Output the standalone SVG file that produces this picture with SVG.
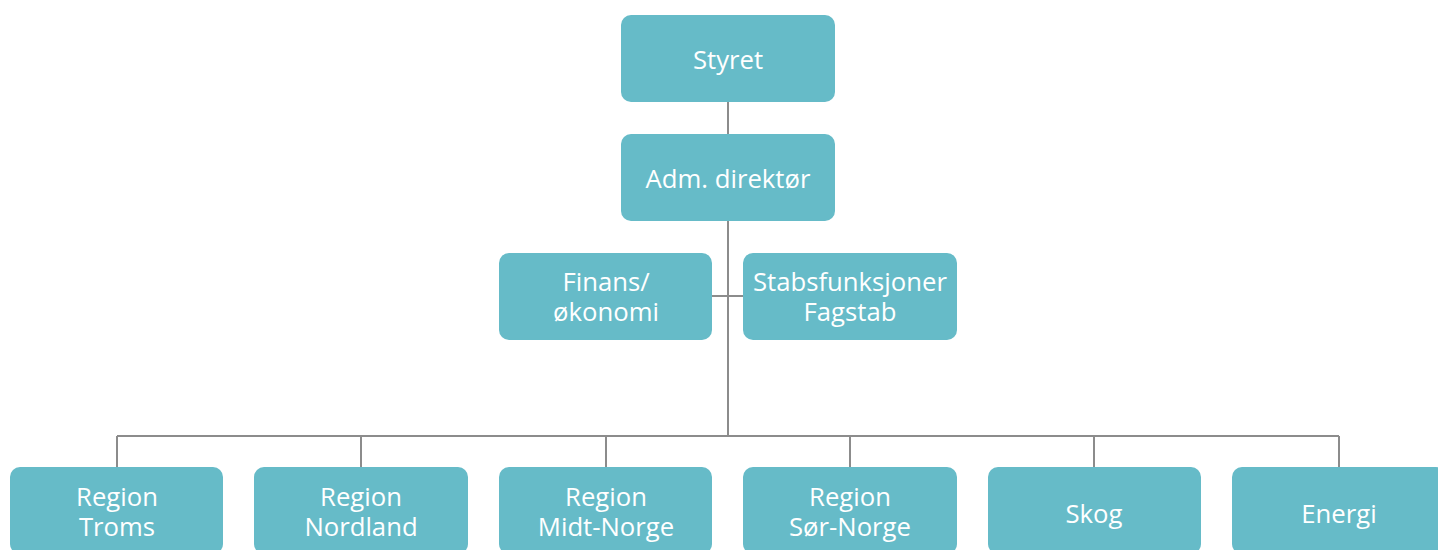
<svg xmlns="http://www.w3.org/2000/svg" width="1438" height="550" viewBox="0 0 1438 550">
<style>
.box{fill:#66bbc8}
.t{font-family:"Open Sans","Liberation Sans",sans-serif;font-size:25.7px;fill:#ffffff;text-anchor:middle;dominant-baseline:central}
.c{stroke:#8c8c8c;stroke-width:2;fill:none}
</style>
<rect width="1438" height="550" fill="#ffffff"/>
<g id="connectors">
<path class="c" d="M728 102V134M728 221V436M712 296H743M117 436H1339M117 436V467M361 436V467M606 436V467M850 436V467M1094 436V467M1339 436V467"/>
</g>
<g id="styret"><rect class="box" x="621" y="15" width="214" height="87" rx="10"/><text class="t" x="728" y="59">Styret</text></g>
<g id="adm"><rect class="box" x="621" y="134" width="214" height="87" rx="10"/><text class="t" x="728" y="178.5">Adm. direktør</text></g>
<g id="finans"><rect class="box" x="499" y="253" width="213" height="87" rx="10"/><text class="t" x="606" y="281">Finans/</text><text class="t" x="606" y="311">økonomi</text></g>
<g id="stabs"><rect class="box" x="743" y="253" width="214" height="87" rx="10"/><text class="t" x="850" y="281">Stabsfunksjoner</text><text class="t" x="850" y="311">Fagstab</text></g>
<g id="troms"><rect class="box" x="10" y="467" width="213" height="87" rx="10"/><text class="t" x="117" y="496">Region</text><text class="t" x="117" y="526">Troms</text></g>
<g id="nordland"><rect class="box" x="254" y="467" width="214" height="87" rx="10"/><text class="t" x="361" y="496">Region</text><text class="t" x="361" y="526">Nordland</text></g>
<g id="midt"><rect class="box" x="499" y="467" width="213" height="87" rx="10"/><text class="t" x="606" y="496">Region</text><text class="t" x="606" y="526">Midt-Norge</text></g>
<g id="sor"><rect class="box" x="743" y="467" width="214" height="87" rx="10"/><text class="t" x="850" y="496">Region</text><text class="t" x="850" y="526">Sør-Norge</text></g>
<g id="skog"><rect class="box" x="988" y="467" width="213" height="87" rx="10"/><text class="t" x="1094" y="513">Skog</text></g>
<g id="energi"><rect class="box" x="1232" y="467" width="214" height="87" rx="10"/><text class="t" x="1339" y="513">Energi</text></g>
</svg>
